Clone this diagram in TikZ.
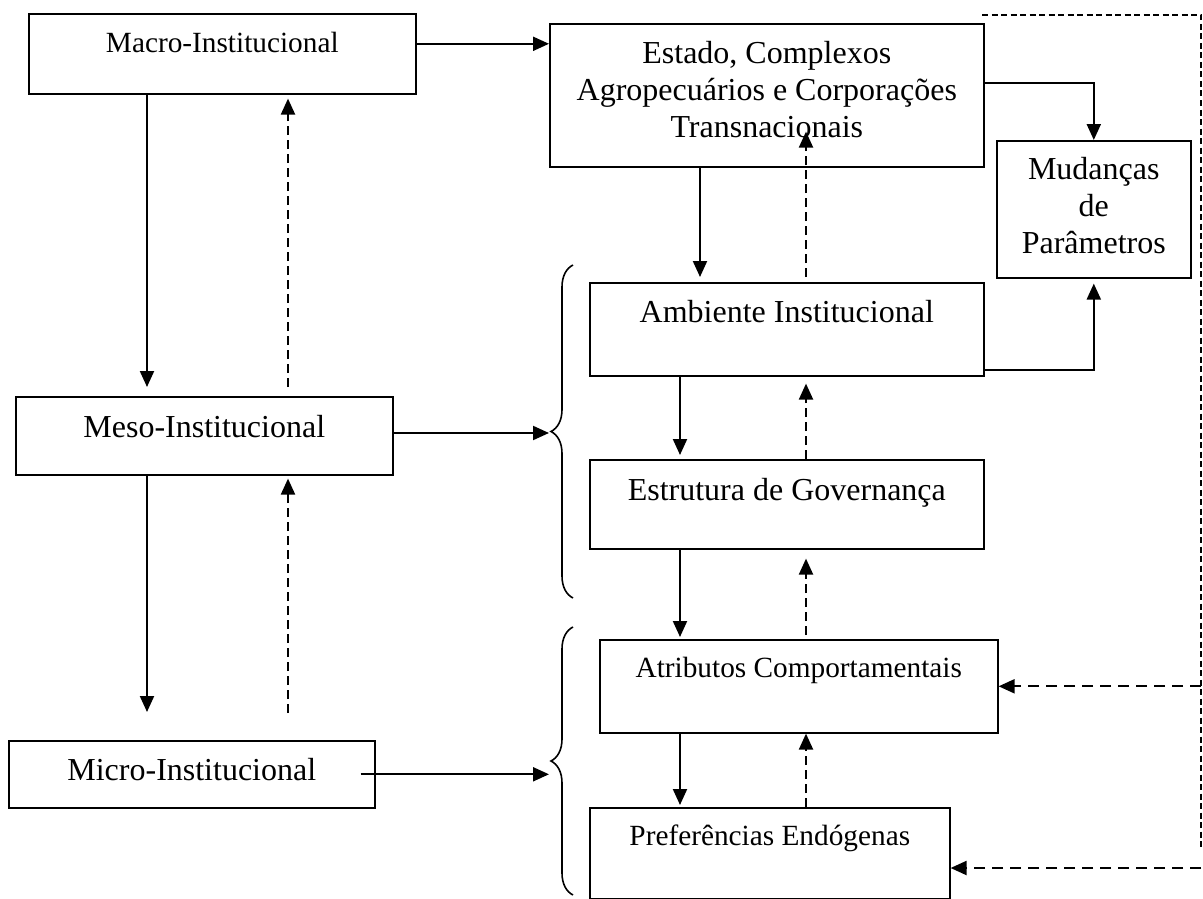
\documentclass[tikz,border=0pt]{standalone}
\usepackage{fontspec}
\setmainfont{Liberation Serif}
\usetikzlibrary{arrows.meta,decorations.pathreplacing}

\newcommand{\bigtxt}{\fontsize{32pt}{37pt}\selectfont}
\newcommand{\smtxt}{\fontsize{29.3pt}{34pt}\selectfont}

\begin{document}
\begin{tikzpicture}[x=1pt,y=-1pt]
\tikzstyle{every node}+=[inner sep=0pt]
\tikzstyle{blk}=[draw, line width=1.6pt, align=center, anchor=north west, font=\bigtxt]
\tikzstyle{arr}=[line width=2.1pt, -{Triangle[length=16pt,width=14pt]}]
\tikzstyle{darr}=[arr, dash pattern=on 9pt off 5pt]
\tikzstyle{fb}=[line width=2pt, dash pattern=on 6pt off 3.5pt]
\tikzstyle{fbarr}=[arr, dash pattern=on 11pt off 7pt]
\tikzstyle{brc}=[line width=1.6pt, decorate, decoration={brace, amplitude=22pt}]
\useasboundingbox (0,0) rectangle (1203,899);
% levels on the left
\node[blk, font=\smtxt, minimum width=387pt, text height=38.7pt, text depth=41.3pt] (macro) at (28,13) {Macro-Institucional};
\node[blk, minimum width=377pt, text height=41pt, text depth=37pt] (meso) at (15,396) {Meso-Institucional};
\node[blk, minimum width=366pt, text height=40pt, text depth=27pt] (micro) at (8,740) {Micro-Institucional};
% agents and environment on the right (last line sets the baseline)
\node[blk, minimum width=434pt, text height=114pt, text depth=29pt] (estado) at (549,23) {Estado, Complexos\\Agropecuários e Corporações\\Transnacionais};
\node[blk, minimum width=194pt, text height=113pt, text depth=24pt] (mudanca) at (996,140) {Mudanças\\de\\Parâmetros};
\node[blk, minimum width=394pt, text height=40pt, text depth=53pt] (ambiente) at (589,282) {Ambiente Institucional};
\node[blk, minimum width=394pt, text height=41pt, text depth=48pt] (governo) at (589,459) {Estrutura de Governança};
\node[blk, font=\smtxt, minimum width=398pt, text height=38pt, text depth=55pt] (atributo) at (599,639) {Atributos Comportamentais};
\node[blk, font=\smtxt, minimum width=360pt, text height=38pt, text depth=53pt] (prefer) at (589,807) {Preferências Endógenas};
% columns of the vertical arrows
\coordinate (lc) at (147,0);
\coordinate (ld) at (288,0);
\coordinate (ec) at (700,0);
\coordinate (rc) at (680,0);
\coordinate (rd) at (806,0);
\coordinate (upbr) at (551,433);
\coordinate (lowbr) at (551,762);
\coordinate (fbtop) at (982,15);
\coordinate (fbcorner) at (1201,15);
\coordinate (fbend) at (1201,868);
% left column
\draw[arr, shorten >=9pt] (macro.south -| lc) -- (meso.north -| lc);
\draw[darr, shorten <=9pt, shorten >=4pt] (meso.north -| ld) -- (macro.south -| ld);
\draw[arr, shorten >=28pt] (meso.south -| lc) -- (micro.north -| lc);
\draw[darr, shorten <=27pt, shorten >=3pt] (micro.north -| ld) -- (meso.south -| ld);
% across
\coordinate (mc) at ([yshift=10pt]macro.east);
\draw[arr] (mc) -- (mc -| estado.west);
\draw[arr, shorten >=2pt] (meso.east |- upbr) -- (upbr);
\coordinate (mi) at ([xshift=-15pt]micro.east);
\draw[arr, shorten >=2pt] (mi) -- (mi -| lowbr);
% braces
\draw[brc] (573,598) -- (573,265);
\draw[brc] (573,895) -- (573,627);
% right column
\draw[arr, shorten >=5pt] (estado.south -| ec) -- (ambiente.north -| ec);
\draw[darr, shorten <=5pt, shorten >=-36pt] (ambiente.north -| rd) -- (estado.south -| rd);
\draw[arr, shorten >=4pt] (ambiente.south -| rc) -- (governo.north -| rc);
\draw[darr, shorten >=7pt] (governo.north -| rd) -- (ambiente.south -| rd);
\draw[arr, shorten >=2pt] (governo.south -| rc) -- (atributo.north -| rc);
\draw[darr, shorten <=4pt, shorten >=9pt] (atributo.north -| rd) -- (governo.south -| rd);
\draw[arr, shorten >=2pt] (atributo.south -| rc) -- (prefer.north -| rc);
\draw[darr] (prefer.north -| rd) -- (atributo.south -| rd);
% parameter changes
\coordinate (ec1) at ([yshift=12.5pt]estado.east);
\draw[arr] (ec1) -| (mudanca.north);
\coordinate (ac1) at ([yshift=-40.5pt]ambiente.east);
\draw[arr, shorten >=5pt] (ac1) -| (mudanca.south);
% feedback
\draw[fb] (fbtop) -- (fbcorner) -- ([yshift=21pt]fbend);
\draw[fbarr] (fbcorner |- atributo.east) -- (atributo.east);
\draw[fbarr] (fbend) -- (fbend -| prefer.east);
\end{tikzpicture}
\end{document}
